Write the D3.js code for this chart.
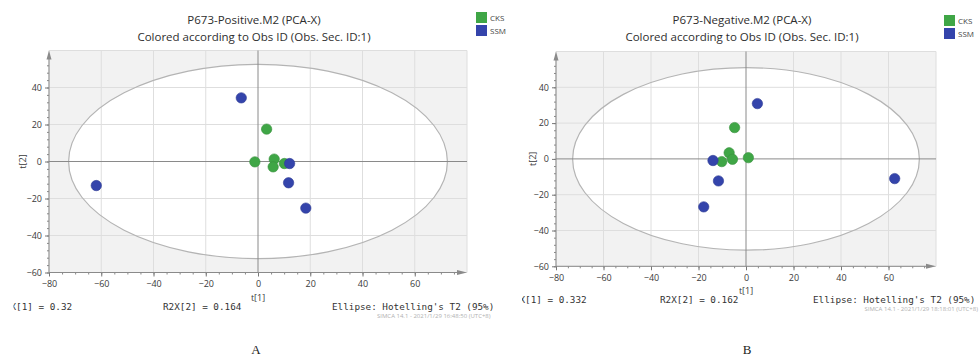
<!DOCTYPE html>
<html>
<head>
<meta charset="utf-8">
<script src="https://cdn.jsdelivr.net/npm/d3@7"></script>
<style>
  body { margin: 0; background: #fff; }
  svg { display: block; }
</style>
</head>
<body>
<div id="chart"></div>
<script>
// score values (t[1], t[2])
var groups = ["CKS", "SSM"];
var groupColors = ["#3fa646", "#3444ab"];

var posCksT1 = [3.3, -1.2, 6.2, 5.8, 10.1];
var posCksT2 = [17.5, -0.2, 1.3, -2.9, -1.1];
var posSsmT1 = [-6.4, -61.9, 12.1, 11.7, 18.3];
var posSsmT2 = [34.4, -13.0, -1.1, -11.5, -25.2];

var negCksT1 = [-4.8, -7.1, -5.7, -10.2, 1.0];
var negCksT2 = [17.5, 3.4, -0.2, -1.5, 0.7];
var negSsmT1 = [4.8, -13.9, -11.6, -17.8, 62.6];
var negSsmT2 = [30.9, -0.9, -12.3, -26.8, -11.0];

var xTicks = [-80, -60, -40, -20, 0, 20, 40, 60];
var yTicks = [-60, -40, -20, 0, 20, 40];

// Hotelling's T2 (95%) ellipse half-axes
var posEllipse = [72.5, 52.5];
var negEllipse = [73, 51];

var svg = d3.select("#chart")
  .append("svg")
  .attr("width", 979)
  .attr("height", 356);

function drawPanel(p) {
  var x = d3.scaleLinear().domain([-80, 80]).range([p.left, p.right]);
  var y = d3.scaleLinear().domain([-60, 60]).range([p.bottom, p.top]);
  var g = svg.append("g");

  // grey plot background, white inside the ellipse
  g.append("rect")
    .attr("x", p.left).attr("y", p.top)
    .attr("width", p.right - p.left).attr("height", p.bottom - p.top)
    .attr("fill", "#f2f2f2");

  g.append("ellipse")
    .attr("cx", x(0)).attr("cy", y(0))
    .attr("rx", x(p.ellipse[0]) - x(0))
    .attr("ry", y(0) - y(p.ellipse[1]))
    .attr("fill", "#fff");

  // grid
  g.selectAll(".gx").data(xTicks.concat([80]).filter(d => d != 0)).enter().append("line")
    .attr("x1", d => x(d)).attr("x2", d => x(d))
    .attr("y1", p.top).attr("y2", p.bottom)
    .attr("stroke", "#dedede").attr("stroke-width", 1);
  g.selectAll(".gy").data(yTicks.concat([60]).filter(d => d != 0)).enter().append("line")
    .attr("y1", d => y(d)).attr("y2", d => y(d))
    .attr("x1", p.left).attr("x2", p.right)
    .attr("stroke", "#dedede").attr("stroke-width", 1);

  g.append("ellipse")
    .attr("cx", x(0)).attr("cy", y(0))
    .attr("rx", x(p.ellipse[0]) - x(0))
    .attr("ry", y(0) - y(p.ellipse[1]))
    .attr("fill", "none")
    .attr("stroke", "#b4b4b4").attr("stroke-width", 1.2);

  // zero lines
  g.append("line")
    .attr("x1", x(0)).attr("x2", x(0)).attr("y1", p.top).attr("y2", p.bottom)
    .attr("stroke", "#8a8a8a");
  g.append("line")
    .attr("x1", p.left).attr("x2", p.right).attr("y1", y(0)).attr("y2", y(0))
    .attr("stroke", "#8a8a8a");

  // axes with minor ticks
  var minorX = d3.range(-80, 80, 5);
  var minorY = d3.range(-60, 60, 4);

  g.append("g")
    .attr("transform", `translate(0, ${p.bottom})`)
    .call(d3.axisBottom(x).tickValues(minorX).tickSize(2).tickFormat(""))
    .call(a => a.select(".domain").remove())
    .call(a => a.selectAll("line").attr("stroke", "#888"));
  var bx = g.append("g")
    .attr("transform", `translate(0, ${p.bottom})`)
    .call(d3.axisBottom(x).tickValues(xTicks).tickSize(4).tickPadding(4));
  bx.select(".domain").remove();
  bx.selectAll("line").attr("stroke", "#777");
  bx.selectAll("text").attr("fill", "#3a3a3a").style("font", "9px 'Open Sans', sans-serif");

  g.append("g")
    .attr("transform", `translate(${p.left}, 0)`)
    .call(d3.axisLeft(y).tickValues(minorY).tickSize(2).tickFormat(""))
    .call(a => a.select(".domain").remove())
    .call(a => a.selectAll("line").attr("stroke", "#888"));
  var ly = g.append("g")
    .attr("transform", `translate(${p.left}, 0)`)
    .call(d3.axisLeft(y).tickValues(yTicks).tickSize(4).tickPadding(3));
  ly.select(".domain").remove();
  ly.selectAll("line").attr("stroke", "#777");
  ly.selectAll("text").attr("fill", "#3a3a3a").style("font", "9px 'Open Sans', sans-serif");

  // axis lines with arrows
  g.append("line")
    .attr("x1", p.left).attr("x2", p.left).attr("y1", p.bottom).attr("y2", p.top + 4)
    .attr("stroke", "#8a8a8a");
  g.append("path")
    .attr("d", `M${p.left},${p.top} L${p.left - 2.5},${p.top + 9} L${p.left + 2.5},${p.top + 9} Z`)
    .attr("fill", "#8a8a8a");
  g.append("line")
    .attr("x1", p.left).attr("x2", p.right - 4).attr("y1", p.bottom).attr("y2", p.bottom)
    .attr("stroke", "#8a8a8a");
  g.append("path")
    .attr("d", `M${p.right},${p.bottom} L${p.right - 10},${p.bottom - 2.5} L${p.right - 10},${p.bottom + 2.5} Z`)
    .attr("fill", "#8a8a8a");

  // axis titles
  g.append("text")
    .attr("x", x(0)).attr("y", p.bottom + 28)
    .attr("text-anchor", "middle")
    .attr("fill", "#3a3a3a")
    .style("font", "9px 'Open Sans', sans-serif")
    .text("t[1]");
  g.append("text")
    .attr("transform", `translate(${p.yLabelX}, ${y(0)}) rotate(-90)`)
    .attr("text-anchor", "middle")
    .attr("dy", "0.35em")
    .attr("fill", "#3a3a3a")
    .style("font", "9px 'Open Sans', sans-serif")
    .text("t[2]");

  // points
  var pts = [];
  p.cksT1.forEach((v, i) => pts.push({ t1: v, t2: p.cksT2[i], grp: 0 }));
  p.ssmT1.forEach((v, i) => pts.push({ t1: v, t2: p.ssmT2[i], grp: 1 }));
  g.selectAll("circle.pt").data(pts).enter().append("circle")
    .attr("class", "pt")
    .attr("cx", d => x(d.t1))
    .attr("cy", d => y(d.t2))
    .attr("r", 5.2)
    .attr("fill", d => groupColors[d.grp])
    .attr("stroke", d => d3.color(groupColors[d.grp]).darker(0.4))
    .attr("stroke-width", 0.6);

  // titles
  var cx = (p.left + p.right) / 2 - 4;
  g.append("text")
    .attr("x", cx).attr("y", 24)
    .attr("text-anchor", "middle").attr("fill", "#2e2e2e")
    .style("font", "11.5px 'Open Sans', sans-serif")
    .text(p.title);
  g.append("text")
    .attr("x", cx).attr("y", 41)
    .attr("text-anchor", "middle").attr("fill", "#2e2e2e")
    .style("font", "11.5px 'Open Sans', sans-serif")
    .text("Colored according to Obs ID (Obs. Sec. ID:1)");

  // legend
  groups.forEach(function(name, i) {
    g.append("rect")
      .attr("x", p.legendX).attr("y", p.legendY + i * 13)
      .attr("width", 11).attr("height", 11)
      .attr("fill", groupColors[i]);
    g.append("text")
      .attr("x", p.legendX + 14).attr("y", p.legendY + i * 13 + 8.5)
      .attr("fill", "#444")
      .style("font", "8px 'Open Sans', sans-serif")
      .text(name);
  });

  // bottom statistics line (first one is cut at the left edge of the screenshot)
  var clipId = "clip" + p.tag;
  svg.append("clipPath").attr("id", clipId)
    .append("rect").attr("x", p.clipX).attr("y", 0).attr("width", 979).attr("height", 356);
  g.append("text")
    .attr("clip-path", `url(#${clipId})`)
    .attr("x", p.statsX[0]).attr("y", p.statsY)
    .attr("fill", "#333")
    .style("font", "9.3px 'DejaVu Sans Mono', monospace")
    .text("R2X[1] = " + p.r2x1);
  g.append("text")
    .attr("x", p.statsX[1]).attr("y", p.statsY)
    .attr("fill", "#333")
    .style("font", "9.3px 'DejaVu Sans Mono', monospace")
    .text("R2X[2] = " + p.r2x2);
  g.append("text")
    .attr("x", p.statsX[2]).attr("y", p.statsY)
    .attr("fill", "#333")
    .style("font", "9.3px 'DejaVu Sans Mono', monospace")
    .text("Ellipse: Hotelling's T2 (95%)");
  g.append("text")
    .attr("x", p.stampX).attr("y", p.statsY + 8)
    .attr("text-anchor", p.stampAnchor)
    .attr("fill", "#b0b0b0")
    .style("font", "6px 'Open Sans', sans-serif")
    .text(p.stamp);

  // panel letter
  g.append("text")
    .attr("x", p.letterX).attr("y", 354)
    .attr("text-anchor", "middle").attr("fill", "#222")
    .style("font", "13px 'Liberation Serif', serif")
    .text(p.letter);
}

drawPanel({
  tag: "A", title: "P673-Positive.M2 (PCA-X)",
  left: 49, right: 467, top: 50.5, bottom: 272.5,
  ellipse: posEllipse,
  cksT1: posCksT1, cksT2: posCksT2, ssmT1: posSsmT1, ssmT2: posSsmT2,
  yLabelX: 23, legendX: 476, legendY: 12,
  clipX: 13.5, statsX: [-0.7, 163, 332], statsY: 310,
  r2x1: "0.32", r2x2: "0.164",
  stampX: 377, stampAnchor: "start", stamp: "SIMCA 14.1 - 2021/1/29 16:48:50 (UTC+8)",
  letterX: 256, letter: "A"
});

drawPanel({
  tag: "B", title: "P673-Negative.M2 (PCA-X)",
  left: 556, right: 936, top: 51.5, bottom: 266.3,
  ellipse: negEllipse,
  cksT1: negCksT1, cksT2: negCksT2, ssmT1: negSsmT1, ssmT2: negSsmT2,
  yLabelX: 533, legendX: 944, legendY: 15,
  clipX: 522, statsX: [508.3, 660, 813], statsY: 303,
  r2x1: "0.332", r2x2: "0.162",
  stampX: 978, stampAnchor: "end", stamp: "SIMCA 14.1 - 2021/1/29 18:18:01 (UTC+8)",
  letterX: 747, letter: "B"
});
</script>
</body>
</html>
